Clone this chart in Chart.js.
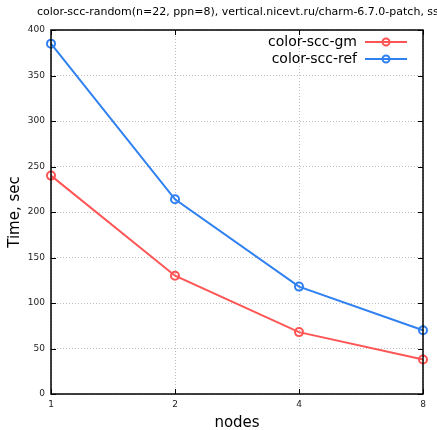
<!DOCTYPE html>
<html>
<head>
<meta charset="utf-8">
<script src="https://cdn.jsdelivr.net/npm/chart.js@4"></script>
<style>
  html, body { margin: 0; padding: 0; background: #fff; }
  #wrap { width: 437px; height: 430px; }
</style>
</head>
<body>
<div id="wrap"><canvas id="c"></canvas></div>
<script>
var nodes = ['1', '2', '4', '8'];
var sccGm = [240, 130, 68, 38];
var sccRef = [385, 214, 118, 70];
var yTicks = [0, 50, 100, 150, 200, 250, 300, 350, 400];
var titleText = 'color-scc-random(n=22, ppn=8), vertical.nicevt.ru/charm-6.7.0-patch, ssh';

var FONT = '"DejaVu Sans", sans-serif';

// gnuplot-like frame: title, border, inward ticks, legend inside the plot
var gnuplotFrame = {
    id: 'gnuplotFrame',
    afterDraw: function (chart) {
        var ctx = chart.ctx;
        var a = chart.chartArea;
        var xs = chart.scales.x, ys = chart.scales.y;
        ctx.save();

        ctx.font = '11px ' + FONT;
        ctx.fillStyle = '#000';
        ctx.textAlign = 'left';
        ctx.textBaseline = 'middle';
        ctx.fillText(titleText, 37, 12);

        ctx.strokeStyle = '#000';
        ctx.lineWidth = 1;
        ctx.beginPath();
        yTicks.forEach(function (v) {
            var y = Math.round(ys.getPixelForValue(v)) + 0.5;
            ctx.moveTo(a.left, y); ctx.lineTo(a.left + 5, y);
            ctx.moveTo(a.right, y); ctx.lineTo(a.right - 5, y);
        });
        nodes.forEach(function (n, i) {
            var x = Math.round(xs.getPixelForValue(i)) + 0.5;
            ctx.moveTo(x, a.bottom); ctx.lineTo(x, a.bottom - 5);
            ctx.moveTo(x, a.top); ctx.lineTo(x, a.top + 5);
        });
        ctx.stroke();
        ctx.lineWidth = 1.5;
        ctx.strokeRect(Math.round(a.left), Math.round(a.top),
            Math.round(a.right - a.left), Math.round(a.bottom - a.top));

        // legend
        ctx.font = '14px ' + FONT;
        ctx.textAlign = 'right';
        chart.data.datasets.forEach(function (ds, i) {
            var y = 42 + i * 17;
            ctx.fillStyle = '#000';
            ctx.fillText(ds.label, 357, y);
            ctx.strokeStyle = ds.borderColor;
            ctx.lineWidth = 2;
            ctx.beginPath();
            ctx.moveTo(365, y); ctx.lineTo(407, y);
            ctx.stroke();
            ctx.beginPath();
            ctx.arc(386, y, 3.5, 0, Math.PI * 2);
            ctx.stroke();
        });
        ctx.restore();
    }
};

new Chart(document.getElementById('c'), {
    type: 'line',
    data: {
        labels: nodes,
        datasets: [
            {
                label: 'color-scc-gm',
                data: sccGm,
                borderColor: '#ff5555',
                backgroundColor: 'transparent',
                borderWidth: 2,
                pointRadius: 4,
                pointBorderWidth: 2,
                pointBackgroundColor: 'transparent',
                tension: 0
            },
            {
                label: 'color-scc-ref',
                data: sccRef,
                borderColor: '#2f80f0',
                backgroundColor: 'transparent',
                borderWidth: 2,
                pointRadius: 4,
                pointBorderWidth: 2,
                pointBackgroundColor: 'transparent',
                tension: 0
            }
        ]
    },
    options: {
        responsive: true,
        maintainAspectRatio: false,
        animation: false,
        layout: { padding: { left: 0, right: 14, top: 30, bottom: 0 } },
        plugins: {
            legend: { display: false },
            title: { display: false },
            tooltip: { enabled: false }
        },
        scales: {
            x: {
                type: 'category',
                offset: false,
                border: { display: false, dash: [1, 2] },
                grid: { color: '#bdbdbd', drawTicks: false },
                ticks: { padding: 5, color: '#222', font: { family: FONT, size: 9 }, maxRotation: 0 },
                title: { display: true, text: 'nodes', color: '#000', font: { family: FONT, size: 15 }, padding: { top: 0, bottom: -2 } },
                afterFit: function (s) { s.height = 36; }
            },
            y: {
                min: 0,
                max: 400,
                border: { display: false, dash: [1, 2] },
                grid: { color: '#bdbdbd', drawTicks: false },
                ticks: { stepSize: 50, padding: 6, color: '#222', font: { family: FONT, size: 9 } },
                title: { display: true, text: 'Time, sec', color: '#000', font: { family: FONT, size: 15 }, padding: { top: 6, bottom: 0 } },
                afterFit: function (s) { s.width = 51; }
            }
        }
    },
    plugins: [gnuplotFrame]
});
</script>
</body>
</html>
